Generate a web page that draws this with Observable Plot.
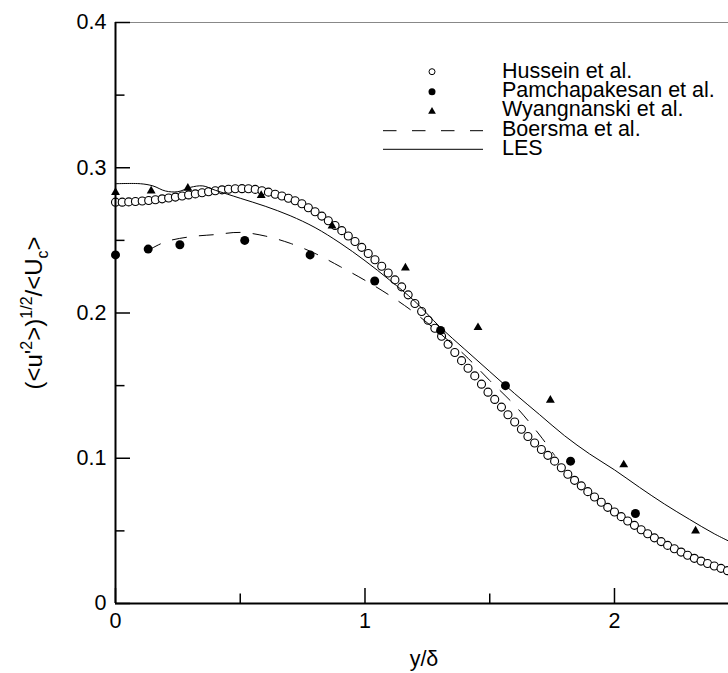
<!DOCTYPE html>
<html><head><meta charset="utf-8">
<script src="https://cdn.jsdelivr.net/npm/d3@7"></script>
<script src="https://cdn.jsdelivr.net/npm/@observablehq/plot@0.6"></script>
<style>
html,body{margin:0;padding:0;background:#fff;overflow:hidden}
#chart{width:728px;height:673px}
</style></head><body><div id="chart"></div>
<script>
const seriesNames = ["Hussein et al.", "Pamchapakesan et al.", "Wyangnanski et al.", "Boersma et al.", "LES"];

const husseinX = [0,0.027,0.053,0.08,0.107,0.133,0.16,0.187,0.213,0.24,
0.267,0.293,0.32,0.347,0.373,0.4,0.427,0.453,0.48,0.507,
0.533,0.56,0.587,0.613,0.64,0.667,0.693,0.72,0.747,0.773,
0.8,0.827,0.853,0.88,0.907,0.933,0.96,0.987,1.013,1.04,
1.067,1.093,1.12,1.147,1.173,1.2,1.227,1.253,1.28,1.307,
1.333,1.36,1.387,1.413,1.44,1.467,1.493,1.52,1.547,1.573,
1.6,1.627,1.653,1.68,1.707,1.733,1.76,1.787,1.813,1.84,
1.867,1.893,1.92,1.947,1.973,2.0,2.027,2.053,2.08,2.107,
2.133,2.16,2.187,2.213,2.24,2.267,2.293,2.32,2.347,2.373,
2.4,2.427,2.453];
const husseinY = [0.2763,0.2763,0.2765,0.2768,0.2771,0.2775,0.2780,0.2786,0.2792,0.2798,
0.2805,0.2813,0.2820,0.2828,0.2835,0.2842,0.2848,0.2852,0.2855,0.2856,
0.2855,0.2851,0.2842,0.2832,0.2818,0.2805,0.2790,0.2773,0.2752,0.2725,
0.2697,0.2667,0.2635,0.2602,0.2567,0.2530,0.2492,0.2452,0.2410,0.2367,
0.2322,0.2275,0.2228,0.2180,0.2125,0.2065,0.2010,0.1950,0.1895,0.1840,
0.1785,0.1728,0.1672,0.1620,0.1567,0.1510,0.1455,0.1405,0.1352,0.1300,
0.1250,0.1200,0.1150,0.1105,0.1060,0.1020,0.0980,0.0935,0.0890,0.0848,
0.0810,0.0770,0.0733,0.0697,0.0662,0.0630,0.0598,0.0568,0.0538,0.0508,
0.0480,0.0452,0.0426,0.0400,0.0377,0.0354,0.0332,0.0311,0.0292,0.0275,
0.0258,0.0242,0.0226];

const pamX = [0, 0.131, 0.258, 0.518, 0.78, 1.039, 1.303, 1.563, 1.824, 2.084];
const pamY = [0.240, 0.244, 0.247, 0.250, 0.240, 0.222, 0.188, 0.150, 0.098, 0.062];

const wyaX = [0, 0.143, 0.29, 0.584, 0.868, 1.162, 1.453, 1.743, 2.037, 2.325];
const wyaY = [0.283, 0.284, 0.286, 0.281, 0.260, 0.231, 0.190, 0.140, 0.0955, 0.050];

const boeX = [0.13, 0.2, 0.3, 0.4, 0.5, 0.6, 0.7, 0.8, 0.9, 1.0, 1.1, 1.2, 1.3, 1.4, 1.5, 1.6, 1.7, 1.76];
const boeY = [0.243, 0.249, 0.2525, 0.254, 0.2555, 0.253, 0.248, 0.241, 0.232, 0.2225, 0.212, 0.200, 0.186, 0.171, 0.1535, 0.1365, 0.116, 0.102];

const lesX = [0, 0.1, 0.15, 0.2, 0.25, 0.3, 0.35, 0.4, 0.5, 0.6, 0.7, 0.8, 0.9, 1.0, 1.1, 1.2, 1.3, 1.4, 1.5, 1.6, 1.7, 1.8, 1.9, 2.0, 2.1, 2.2, 2.3, 2.4, 2.5];
const lesY = [0.289, 0.289, 0.2875, 0.284, 0.2835, 0.2865, 0.2875, 0.2845, 0.279, 0.2735, 0.267, 0.2588, 0.2482, 0.236, 0.2225, 0.208, 0.1905, 0.175, 0.1597, 0.1445, 0.130, 0.1155, 0.103, 0.092, 0.080, 0.0685, 0.058, 0.048, 0.0395];

const xTicks = [0, 1, 2];
const xMinor = [0.5, 1.5];
const yTicks = [0, 0.1, 0.2, 0.3, 0.4];
const yTickLabels = ["0", "0.1", "0.2", "0.3", "0.4"];
const yMinor = [0.05, 0.15, 0.25, 0.35];

const rows = (xs, ys) => xs.map((x, i) => ({x, y: ys[i]}));
const hussein = rows(husseinX, husseinY);
const pam = rows(pamX, pamY);
const wya = rows(wyaX, wyaY);
const boe = rows(boeX, boeY);
const les = rows(lesX, lesY);

const FONT = "'Liberation Sans', Arial, sans-serif";

const chart = Plot.plot({
  width: 728, height: 673,
  marginLeft: 115, marginRight: 0, marginTop: 22, marginBottom: 70,
  style: {fontFamily: FONT, fontSize: "21.5px", background: "#fff", color: "#000", overflow: "hidden"},
  x: {domain: [0, 2.457], label: null},
  y: {domain: [0, 0.4], label: null},
  marks: [
    Plot.ruleY([0.4], {stroke: "#888", strokeWidth: 1}),
    Plot.dot(hussein, {x: "x", y: "y", r: 4, stroke: "#000", strokeWidth: 1.1, fill: "#fff"}),
    Plot.line(boe, {x: "x", y: "y", stroke: "#000", strokeWidth: 1, strokeDasharray: "14,13", curve: "catmull-rom", clip: true}),
    Plot.line(les, {x: "x", y: "y", stroke: "#000", strokeWidth: 1, curve: "catmull-rom", clip: true}),
    Plot.dot(pam, {x: "x", y: "y", r: 4.5, fill: "#000", stroke: "none"}),
    Plot.dot(wya, {x: "x", y: "y", r: 3.3, symbol: "triangle", fill: "#000", stroke: "none"}),
    Plot.axisX(xTicks, {tickSize: -15, tickFormat: () => "", strokeWidth: 1.5, label: null}),
    Plot.axisX(xMinor, {tickSize: -9.5, tickFormat: () => "", strokeWidth: 1.5, label: null}),
    Plot.axisX(xTicks, {tickSize: 0, tickPadding: 9.5, label: null, tickFormat: d => String(d)}),
    Plot.axisY(yTicks, {tickSize: -15, tickFormat: () => "", strokeWidth: 1.5, label: null}),
    Plot.axisY(yMinor, {tickSize: -9.5, tickFormat: () => "", strokeWidth: 1.5, label: null}),
    Plot.axisY(yTicks, {tickSize: 0, tickPadding: 9, label: null, tickFormat: d => yTickLabels[yTicks.indexOf(d)]}),
    Plot.ruleX([0], {stroke: "#000", strokeWidth: 2}),
    Plot.ruleY([0], {stroke: "#000", strokeWidth: 2})
  ]
});
document.getElementById("chart").appendChild(chart);

const svg = d3.select(chart);

// axis titles
svg.append("text").attr("x", 424).attr("y", 666).attr("text-anchor", "middle")
  .style("font-family", FONT).style("font-size", "21.5px").attr("fill", "#000").text("y/δ");

const yl = svg.append("text").attr("transform", "translate(42,313) rotate(-90)")
  .attr("text-anchor", "middle").style("font-family", FONT).style("font-size", "24px").attr("fill", "#000");
yl.append("tspan").text("(<u'");
yl.append("tspan").attr("dy", -10).style("font-size", "16px").text("2");
yl.append("tspan").attr("dy", 10).text(">)");
yl.append("tspan").attr("dy", -10).style("font-size", "16px").text("1/2");
yl.append("tspan").attr("dy", 10).text("/<U");
yl.append("tspan").attr("dy", 6).style("font-size", "16px").text("c");
yl.append("tspan").attr("dy", -6).text(">");

// legend
const lg = svg.append("g").style("font-family", FONT).style("font-size", "21.5px").attr("text-anchor", "start");
const baselines = [77.7, 96.7, 116, 135.7, 155];
seriesNames.forEach((name, i) => {
  lg.append("text").attr("x", 502).attr("y", baselines[i]).attr("text-anchor", "start").attr("fill", "#000").text(name);
});
const symX = 432;
lg.append("circle").attr("cx", symX).attr("cy", 71.7).attr("r", 3).attr("fill", "#fff").attr("stroke", "#000").attr("stroke-width", 1);
lg.append("circle").attr("cx", symX).attr("cy", 91.7).attr("r", 3.5).attr("fill", "#000");
lg.append("path").attr("transform", `translate(${symX},111.5)`).attr("d", d3.symbol(d3.symbolTriangle, 26)()).attr("fill", "#000");
lg.append("line").attr("x1", 383).attr("x2", 483).attr("y1", 130.7).attr("y2", 130.7).attr("stroke", "#000").attr("stroke-width", 1).attr("stroke-dasharray", "13.5,15.5");
lg.append("line").attr("x1", 383).attr("x2", 483).attr("y1", 149.3).attr("y2", 149.3).attr("stroke", "#000").attr("stroke-width", 1);
</script>
</body></html>
